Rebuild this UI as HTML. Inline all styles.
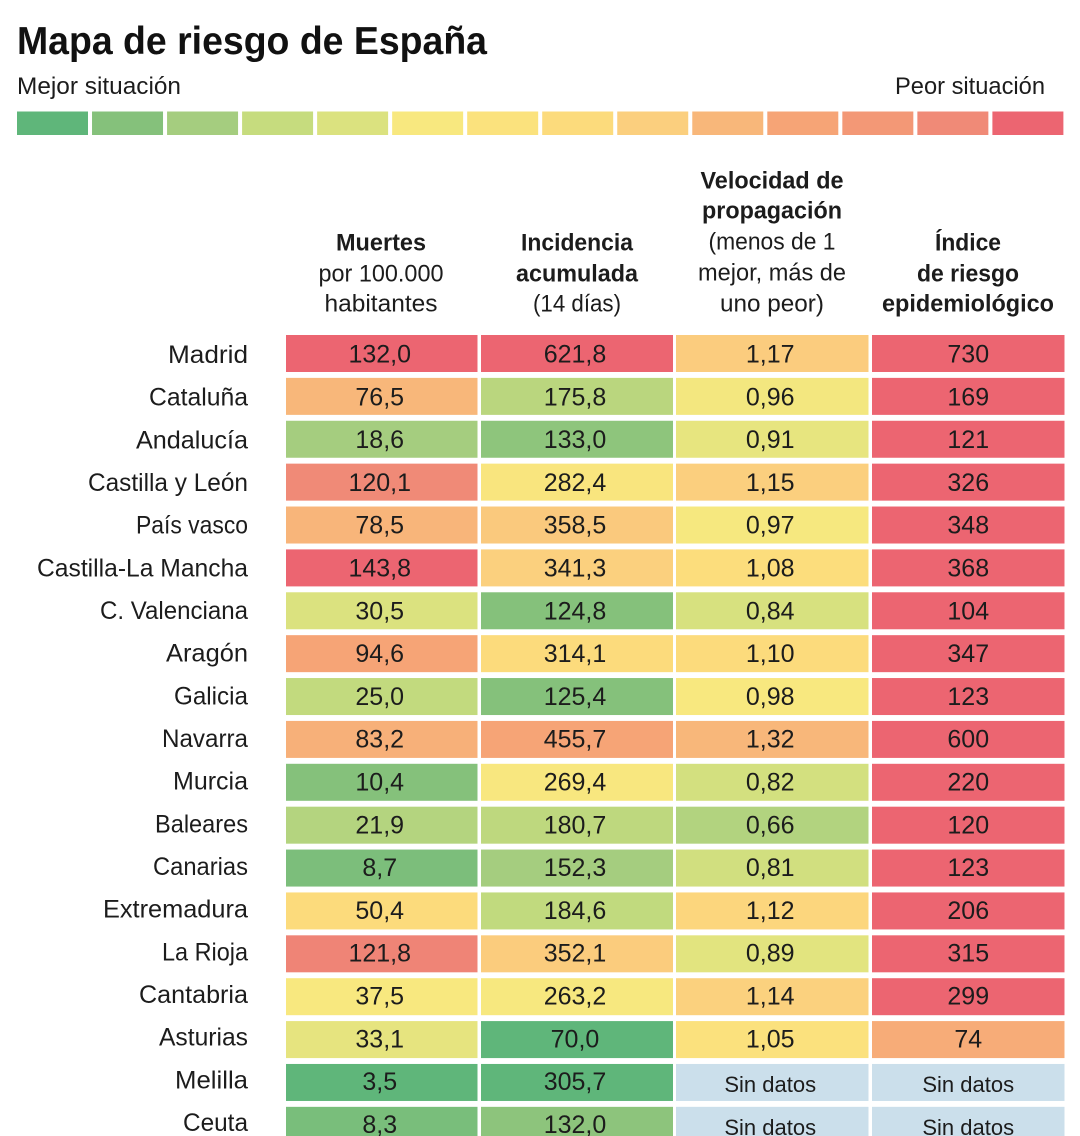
<!DOCTYPE html>
<html lang="es">
<head>
<meta charset="utf-8">
<title>Mapa de riesgo de España</title>
<style>
html,body{margin:0;padding:0;background:#fff;}
body{width:1080px;height:1136px;overflow:hidden;}
svg{display:block;font-family:"Liberation Sans",sans-serif;fill:#1c1c1c;}
</style>
</head>
<body>
<svg id="chart" xmlns="http://www.w3.org/2000/svg" width="1080" height="1136" viewBox="0 0 1080 1136">
  <text x="17" y="54" font-size="38.5" font-weight="700" textLength="470" lengthAdjust="spacingAndGlyphs" fill="#111">Mapa de riesgo de España</text>
  <text x="17" y="94" font-size="24" textLength="164" lengthAdjust="spacingAndGlyphs">Mejor situación</text>
  <text x="1045" y="94" font-size="24" text-anchor="end" textLength="150" lengthAdjust="spacingAndGlyphs">Peor situación</text>
  <g id="legend"></g>
  <g text-anchor="middle" font-size="24.5">
    <text x="381" y="250.5" font-weight="700" textLength="90" lengthAdjust="spacingAndGlyphs">Muertes</text>
    <text x="381" y="281.5" textLength="125" lengthAdjust="spacingAndGlyphs">por 100.000</text>
    <text x="381" y="311.5" textLength="113" lengthAdjust="spacingAndGlyphs">habitantes</text>
  </g>
  <g text-anchor="middle" font-size="24.5">
    <text x="577" y="250.5" font-weight="700" textLength="112" lengthAdjust="spacingAndGlyphs">Incidencia</text>
    <text x="577" y="281.5" font-weight="700" textLength="122" lengthAdjust="spacingAndGlyphs">acumulada</text>
    <text x="577" y="311.5" textLength="88" lengthAdjust="spacingAndGlyphs">(14 días)</text>
  </g>
  <g text-anchor="middle" font-size="24.5">
    <text x="772" y="188.5" font-weight="700" textLength="143" lengthAdjust="spacingAndGlyphs">Velocidad de</text>
    <text x="772" y="218.5" font-weight="700" textLength="140" lengthAdjust="spacingAndGlyphs">propagación</text>
    <text x="772" y="249.5" textLength="127" lengthAdjust="spacingAndGlyphs">(menos de 1</text>
    <text x="772" y="280.5" textLength="148" lengthAdjust="spacingAndGlyphs">mejor, más de</text>
    <text x="772" y="311.5" textLength="104" lengthAdjust="spacingAndGlyphs">uno peor)</text>
  </g>
  <g text-anchor="middle" font-size="24.5">
    <text x="968" y="250.5" font-weight="700" textLength="66" lengthAdjust="spacingAndGlyphs">Índice</text>
    <text x="968" y="281.5" font-weight="700" textLength="102" lengthAdjust="spacingAndGlyphs">de riesgo</text>
    <text x="968" y="311.5" font-weight="700" textLength="172" lengthAdjust="spacingAndGlyphs">epidemiológico</text>
  </g>
  <g id="labels"></g>
  <g id="cells"></g>
</svg>
<script>
const regions = ["Madrid","Cataluña","Andalucía","Castilla y León","País vasco","Castilla-La Mancha","C. Valenciana","Aragón","Galicia","Navarra","Murcia","Baleares","Canarias","Extremadura","La Rioja","Cantabria","Asturias","Melilla","Ceuta"];
const deaths = [132.0,76.5,18.6,120.1,78.5,143.8,30.5,94.6,25.0,83.2,10.4,21.9,8.7,50.4,121.8,37.5,33.1,3.5,8.3];
const incidence = [621.8,175.8,133.0,282.4,358.5,341.3,124.8,314.1,125.4,455.7,269.4,180.7,152.3,184.6,352.1,263.2,70.0,305.7,132.0];
const velocity = [1.17,0.96,0.91,1.15,0.97,1.08,0.84,1.10,0.98,1.32,0.82,0.66,0.81,1.12,0.89,1.14,1.05,null,null];
const riskIndex = [730,169,121,326,348,368,104,347,123,600,220,120,123,206,315,299,74,null,null];
const palette = ["#5fb67a","#85c17b","#a5cd7f","#c6dc7e","#dbe27f","#f8e87f","#fbe27d","#fcdb7c","#fbcf7e","#f8b77a","#f6a476","#f39876","#f08a77","#ec6571"];
const deathStops = [3.5,10.4,18.6,26,30.5,37.5,44,50.4,63,76.5,94.6,107,120.1,130];
const incidenceStops = [70,125,152,190,230,265,300,314,345,400,455,500,560,621];
const velocityStops = [0.3,0.45,0.6,0.75,0.86,0.98,1.04,1.10,1.15,1.32,1.45,1.6,1.8,2];
const riskStops = [5,10,15,20,25,30,35,40,50,65,80,90,98,104];
const noDataColour = "#cbdfeb";
const noDataText = "Sin datos";

/* Rendered label widths, matching the condensed lettering of the original face. */
const labelFit = {"Madrid":80,"Cataluña":99,"Andalucía":112,"Castilla y León":160,"País vasco":112,"Castilla-La Mancha":211,"C. Valenciana":148,"Aragón":82,"Galicia":74,"Navarra":86,"Murcia":75,"Baleares":93,"Canarias":95,"Extremadura":145,"La Rioja":86,"Cantabria":109,"Asturias":89,"Melilla":73,"Ceuta":65};

const columnX = [286,481,676,872];
const columnW = [191.5,192,192.5,192.5];
const rowTop = 335, rowStep = 42.88, rowH = 37;
const NS = "http://www.w3.org/2000/svg";

function hexToRgb(h){return [1,3,5].map(p=>parseInt(h.substr(p,2),16));}
function colourAt(level){
  const t = Math.max(0,Math.min(palette.length-1,level));
  const i = Math.min(palette.length-2,Math.floor(t));
  const a = hexToRgb(palette[i]), b = hexToRgb(palette[i+1]), f = t-i;
  return "rgb("+a.map((c,k)=>Math.round(c+(b[k]-c)*f)).join(",")+")";
}
function levelScale(value,stops){
  if(value<=stops[0]) return 0;
  for(let i=1;i<stops.length;i++){
    if(value<=stops[i]) return i-1+(value-stops[i-1])/(stops[i]-stops[i-1]);
  }
  return stops.length-1;
}
function rowY(i){return rowTop+rowStep*i;}
function svgEl(tag,parent){const el=document.createElementNS(NS,tag);parent.appendChild(el);return el;}
function fmt(v,d){return v.toFixed(d).replace(".",",");}

const legendG = document.getElementById("legend");
palette.forEach((c,i)=>{
  const r = svgEl("rect",legendG);
  r.setAttribute("x",17+75.03*i);
  r.setAttribute("y",111.5);
  r.setAttribute("width",71);
  r.setAttribute("height",23.5);
  r.setAttribute("fill",c);
  
  
});

const labelsG = document.getElementById("labels");
regions.forEach((name,i)=>{
  const t = svgEl("text",labelsG);
  t.setAttribute("x",248);
  t.setAttribute("y",363+42.67*i);
  t.setAttribute("text-anchor","end");
  t.setAttribute("font-size",25);
  if(labelFit[name]){
    t.setAttribute("textLength",labelFit[name]);
    t.setAttribute("lengthAdjust","spacingAndGlyphs");
  }
  t.textContent = name;
  
  
});

const columns = [
  {key:"deaths",values:deaths,stops:deathStops,dec:1},
  {key:"incidence",values:incidence,stops:incidenceStops,dec:1},
  {key:"velocity",values:velocity,stops:velocityStops,dec:2},
  {key:"risk-index",values:riskIndex,stops:riskStops,dec:0}
];
/* The source graphic paints Melilla's incidence cell at the best level despite its value. */
const cellLevelOverrides = {"incidence:Melilla":0};

const cellsG = document.getElementById("cells");
columns.forEach((col,c)=>{
  col.values.forEach((v,i)=>{
    const missing = v===null;
    const override = cellLevelOverrides[col.key+":"+regions[i]];
    const level = override!==undefined ? override : (missing?0:levelScale(v,col.stops));
    const r = svgEl("rect",cellsG);
    r.setAttribute("x",columnX[c]);
    r.setAttribute("y",rowY(i));
    r.setAttribute("width",columnW[c]);
    r.setAttribute("height",rowH);
    r.setAttribute("fill",missing?noDataColour:colourAt(level));
    
    
    const t = svgEl("text",cellsG);
    t.setAttribute("x",columnX[c]+columnW[c]/2-(c===3?0:2));
    t.setAttribute("text-anchor","middle");
    const cy = 354+42.8*i;
    if(missing){
      t.setAttribute("y",cy+10.5);
      t.setAttribute("font-size",22);
      t.textContent = noDataText;
    }else{
      t.setAttribute("y",cy+8.5);
      t.setAttribute("font-size",25);
      t.textContent = fmt(v,col.dec);
    }
    
    
  });
});
</script>
</body>
</html>
